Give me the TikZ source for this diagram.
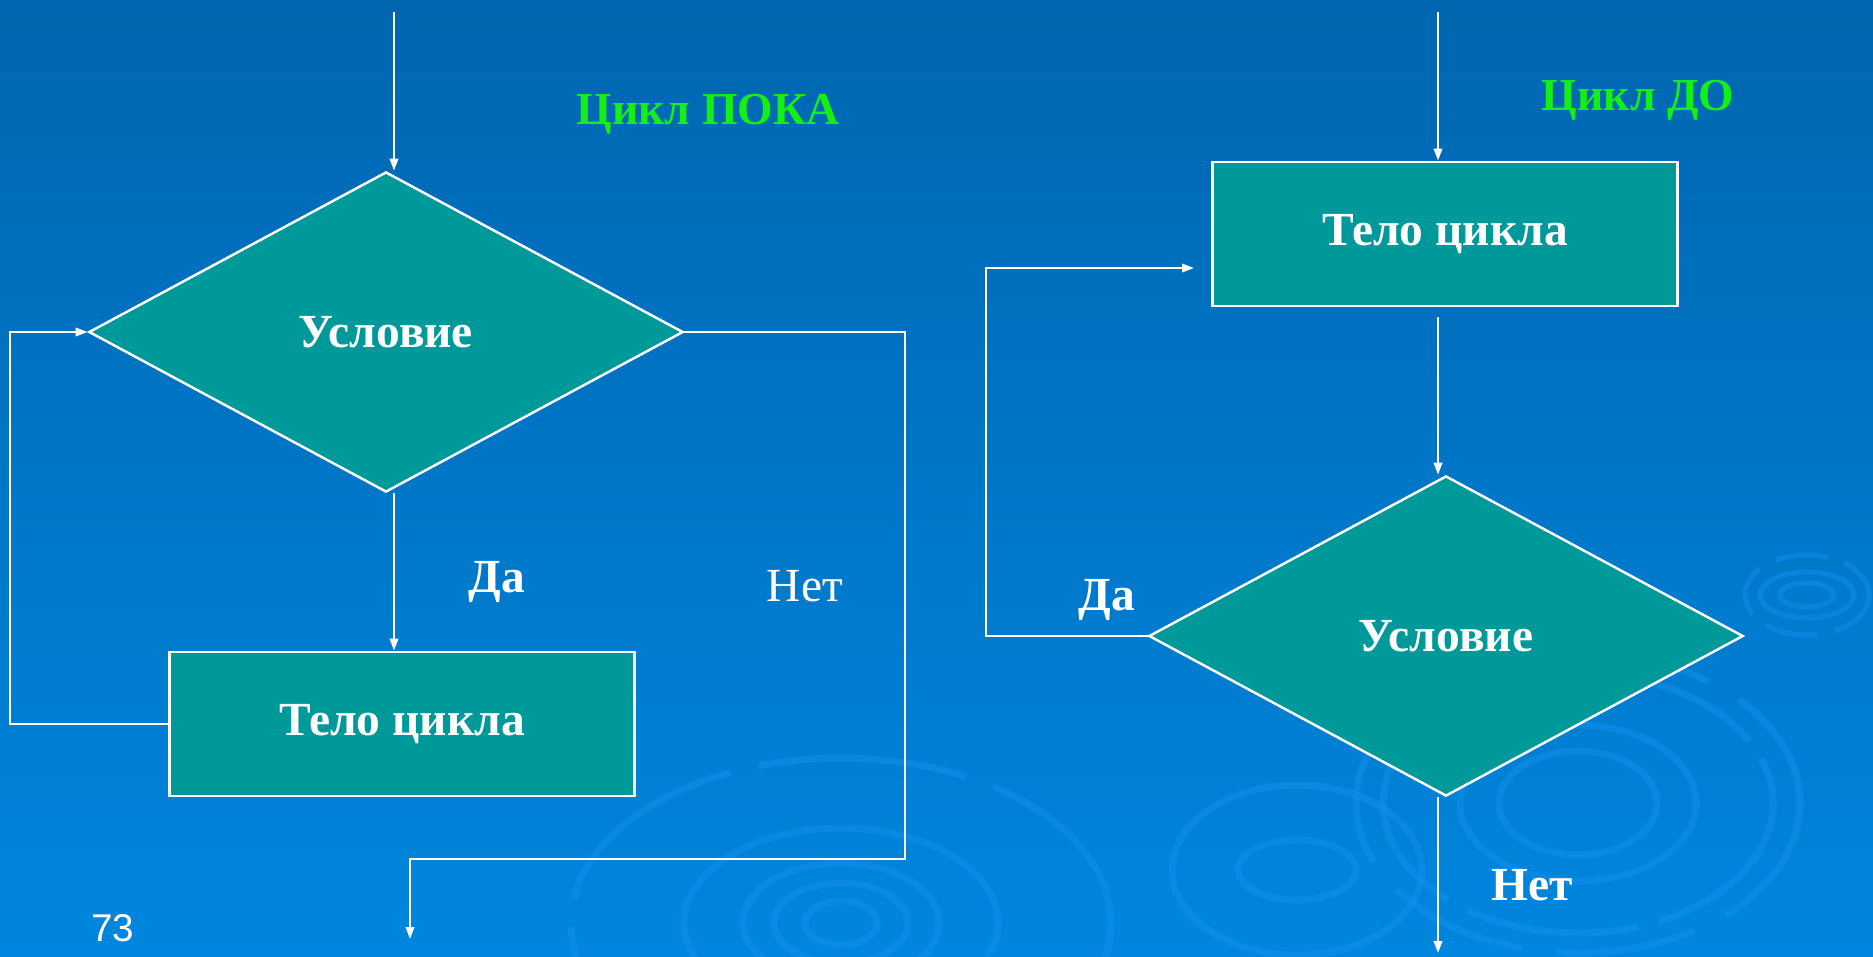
\documentclass[tikz,border=0pt]{standalone}
\usepackage{fontspec}
\setmainfont{Liberation Serif}
\newfontfamily\numfont{Liberation Sans}
\usepackage{tikz}
\usetikzlibrary{shapes.geometric,arrows.meta}

\definecolor{bgtop}{RGB}{0,102,176}
\definecolor{bgbot}{RGB}{0,134,222}
\definecolor{teal}{RGB}{0,153,153}
\definecolor{titlegreen}{RGB}{20,240,20}
\definecolor{ripple}{RGB}{20,145,240}

\begin{document}
\begin{tikzpicture}[x=0.01cm,y=-0.01cm,
    block/.style={rectangle,draw=white,line width=0.8pt,fill=teal,
        minimum width=4.65cm,minimum height=1.44cm,text=white,
        font=\fontsize{13.5}{16}\selectfont\bfseries},
    cond/.style={diamond,draw=white,line width=0.7pt,fill=teal,inner sep=0pt,
        minimum width=5.94cm,minimum height=3.2cm,text=white,
        font=\fontsize{13.5}{16}\selectfont\bfseries},
    flow/.style={draw=white,line width=0.6pt},
    go/.style={flow,-{Triangle[length=3.4pt,width=2.4pt]}},
    answer/.style={text=white,font=\fontsize{13.5}{16}\selectfont\bfseries},
    title/.style={text=titlegreen,font=\fontsize{13}{16}\selectfont\bfseries},
    wave/.style={draw=ripple,opacity=0.45,line width=2pt}]

    % background
    \useasboundingbox (0,0) rectangle (1873,956);
    \shade[top color=bgtop,bottom color=bgbot] (0,0) rectangle (1873,956);

    % ripples
    \begin{scope}
        \clip (0,0) rectangle (1873,956);
        \foreach \rx/\ry in {36/22,67/40,98/60,157/95}
            \draw[wave] (841,923) ellipse ({\rx} and {\ry});
        \draw[wave,dash pattern=on 60pt off 8pt] (841,923) ellipse (270 and 165);
        \foreach \rx/\ry in {59/30,125/85}
            \draw[wave] (1297,870) ellipse ({\rx} and {\ry});
        \foreach \rx/\ry in {79/52,118/78}
            \draw[wave] (1578,803) ellipse ({\rx} and {\ry});
        \draw[wave,dash pattern=on 50pt off 6pt] (1578,803) ellipse (195 and 130);
        \draw[wave,dash pattern=on 40pt off 10pt] (1578,803) ellipse (222 and 150);
        \foreach \rx/\ry in {27/12,47/23}
            \draw[wave,line width=1.5pt] (1807,595) ellipse ({\rx} and {\ry});
        \draw[wave,line width=1.5pt,dash pattern=on 15pt off 5pt] (1807,595) ellipse (62 and 40);
    \end{scope}

    % while loop
    \node[cond] (cond1) at (386,332) {Условие};
    \node[block] (body1) at (402,724) {Тело цикла};
    \coordinate (in1) at (394,12);
    \coordinate (lp1) at (10,332);
    \coordinate (nr1) at (905,859);
    \coordinate (out1) at (410,939);
    \draw[go] (in1) -- (in1 |- cond1.north);
    \draw[go] (in1 |- cond1.south) -- (in1 |- body1.north);
    \draw[go] (body1.west) -| (lp1) -- (cond1.west);
    \draw[go] (cond1.east) -| (nr1) -- (nr1 -| out1) -- (out1);
    \node[title] (title1) at (708,114) {Цикл ПОКА};
    \node[answer] (yes1) at (497,582) {Да};
    \node[answer,font=\fontsize{13.5}{16}\selectfont] (no1) at (805,586) {Нет};

    % do loop
    \node[block] (body2) at (1445,234) {Тело цикла};
    \node[cond] (cond2) at (1446,636) {Условие};
    \coordinate (in2) at (1438,12);
    \coordinate (lp2) at (986,268);
    \coordinate (out2) at (1438,953);
    \draw[go] (in2) -- (in2 |- body2.north);
    \draw[go,shorten <=0.1cm] (in2 |- body2.south) -- (in2 |- cond2.north);
    \draw[go,shorten >=0.17cm] (cond2.west) -| (lp2) -- (lp2 -| body2.west);
    \draw[go] (in2 |- cond2.south) -- (out2);
    \node[title] (title2) at (1638,100) {Цикл ДО};
    \node[answer] (yes2) at (1107,600) {Да};
    \node[answer] (no2) at (1532,885) {Нет};

    \node[text=white,font=\numfont\fontsize{11}{13}\selectfont] (page) at (113,928) {73};
\end{tikzpicture}
\end{document}
